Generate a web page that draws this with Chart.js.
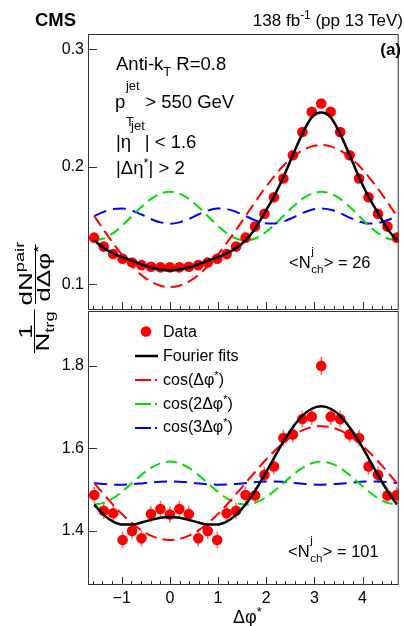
<!DOCTYPE html>
<html>
<head>
<meta charset="utf-8">
<script src="https://cdn.jsdelivr.net/npm/chart.js@4.4.1/dist/chart.umd.min.js"></script>
<style>
body{margin:0;background:#fff;width:404px;height:626px;overflow:hidden;position:relative;font-family:'Liberation Sans',Arial,sans-serif;}
canvas{position:absolute;left:0}
.t{position:absolute;white-space:nowrap;line-height:1;color:#000}
.sp{position:relative;font-size:70%;line-height:1}
.ss{position:relative;display:inline-block;height:1em;vertical-align:baseline}
.ss > span{position:absolute;left:0.05em;font-size:70%;line-height:1;white-space:nowrap}
.frac{display:inline-flex;flex-direction:column;align-items:center}
.frac > span{line-height:0.85;padding:0 1px}
.frac .den{border-top:1.5px solid #000;padding-top:1px}
</style>
</head>
<body>
<canvas id="topo" width="404" height="331" style="top:0"></canvas>
<canvas id="baixo" width="404" height="335" style="top:291px"></canvas>

<!-- cabeçalho -->
<div class="t" style="left:35px;top:11px;font-size:18.5px;font-weight:bold">CMS</div>
<div class="t" style="right:1px;top:12px;font-size:17px">138 fb<span class="sp" style="top:-7px">-1</span> (pp 13 TeV)</div>
<div class="t" style="right:3px;top:41px;font-size:17px;font-weight:bold">(a)</div>

<!-- textos do painel de cima -->
<div class="t" style="left:116px;top:55px;font-size:18.5px">Anti-k<span class="sp" style="top:6px">T</span> R=0.8</div>
<div class="t" style="left:115px;top:89px;font-size:18.5px">p<span class="ss" style="width:0.8em"><span style="top:-9px">jet</span><span style="top:27px">T</span></span> &gt; 550 GeV</div>
<div class="t" style="left:116px;top:133px;font-size:18.5px">|η<span class="sp" style="top:-18px">jet</span>| &lt; 1.6</div>
<div class="t" style="left:116px;top:159px;font-size:18.5px">|Δη<span class="sp" style="top:-7px">*</span>| &gt; 2</div>
<div class="t" style="left:289px;top:251px;font-size:16.5px">&lt;N<span class="ss" style="width:0.8em"><span style="top:-5px">j</span><span style="top:13px">ch</span></span>&gt; = 26</div>

<!-- legenda e textos do painel de baixo -->
<div class="t" style="left:163px;top:324px;font-size:16px">Data</div>
<div class="t" style="left:163px;top:348px;font-size:16px">Fourier fits</div>
<div class="t" style="left:163px;top:372px;font-size:16px">cos(Δφ<span class="sp" style="top:-6px">*</span>)</div>
<div class="t" style="left:163px;top:396px;font-size:16px">cos(2Δφ<span class="sp" style="top:-6px">*</span>)</div>
<div class="t" style="left:163px;top:419px;font-size:16px">cos(3Δφ<span class="sp" style="top:-6px">*</span>)</div>
<div class="t" style="left:288px;top:540px;font-size:16.5px">&lt;N<span class="ss" style="width:0.8em"><span style="top:-5px">j</span><span style="top:13px">ch</span></span>&gt; = 101</div>

<!-- titulo do eixo x -->
<div class="t" style="left:233px;top:608px;font-size:18px">Δφ<span class="sp" style="top:-7px">*</span></div>

<!-- titulo do eixo y (girado) -->
<div class="t" style="left:19px;top:353px;font-size:18px;transform:rotate(-90deg) scaleX(1.45);transform-origin:0 0;display:flex;align-items:center;gap:2px">
  <span class="frac"><span class="num">1</span><span class="den">N<span class="sp" style="top:5px">trg</span></span></span>
  <span class="frac"><span class="num">dN<span class="sp" style="top:-8px">pair</span></span><span class="den">dΔφ<span class="sp" style="top:-7px">*</span></span></span>
</div>

<script>
// centros dos bins em delta phi (-pi/2 ate 3pi/2, passo pi/16)
const dphi = [-1.571,-1.374,-1.178,-0.982,-0.785,-0.589,-0.393,-0.196,0,0.196,0.393,0.589,0.785,0.982,1.178,1.374,1.571,1.767,1.963,2.160,2.356,2.553,2.749,2.945,3.142,3.338,3.534,3.731,3.927,4.123,4.320,4.516,4.712]

const xTicks = [-1, 0, 1, 2, 3, 4]
const yTicksTop = [0.1, 0.2, 0.3]
const yTicksBottom = [1.4, 1.6, 1.8]

// painel de cima, <Nch> = 26
const dataTop = [0.1396,0.132,0.1256,0.1216,0.1185,0.1162,0.1148,0.1143,0.1143,0.1143,0.1148,0.1162,0.1185,0.1216,0.1256,0.132,0.1396,0.149,0.160,0.174,0.190,0.2097,0.2296,0.2467,0.2538,0.2467,0.2296,0.2097,0.190,0.174,0.160,0.149,0.1396]
const fitTop = [0.1373,0.1307,0.1263,0.1229,0.1198,0.1169,0.1142,0.1124,0.1117,0.1124,0.1142,0.1169,0.1198,0.1229,0.1263,0.1307,0.1373,0.1471,0.1606,0.1745,0.191,0.210,0.228,0.242,0.2462,0.242,0.228,0.210,0.191,0.1745,0.1606,0.1471,0.1373]
const cos1Top = [0.158,0.1462,0.1349,0.1244,0.1152,0.1077,0.1021,0.0987,0.0975,0.0987,0.1021,0.1077,0.1152,0.1244,0.1349,0.1462,0.158,0.1698,0.1812,0.1916,0.2008,0.2083,0.2139,0.2173,0.2185,0.2173,0.2139,0.2083,0.2008,0.1916,0.1812,0.1698,0.158]
const cos2Top = [0.1373,0.1389,0.1434,0.1501,0.158,0.1659,0.1726,0.1771,0.1787,0.1771,0.1726,0.1659,0.158,0.1501,0.1434,0.1389,0.1373,0.1389,0.1434,0.1501,0.158,0.1659,0.1726,0.1771,0.1787,0.1771,0.1726,0.1659,0.158,0.1501,0.1434,0.1389,0.1373]
const cos3Top = [0.158,0.1616,0.1640,0.1644,0.1626,0.1593,0.1555,0.1526,0.1515,0.1526,0.1555,0.1593,0.1626,0.1644,0.1640,0.1616,0.158,0.1544,0.1520,0.1516,0.1534,0.1567,0.1605,0.1634,0.1645,0.1634,0.1605,0.1567,0.1534,0.1516,0.1520,0.1544,0.158]

// painel de baixo, <Nch> = 101
const dataBottom = [1.487,1.449,1.443,1.378,1.400,1.382,1.441,1.453,1.440,1.453,1.441,1.382,1.400,1.378,1.443,1.449,1.487,1.486,1.536,1.556,1.625,1.634,1.671,1.677,1.800,1.677,1.671,1.634,1.625,1.556,1.536,1.486,1.487]
const errBottom = [0.02,0.02,0.02,0.02,0.02,0.02,0.02,0.02,0.02,0.02,0.02,0.02,0.02,0.02,0.02,0.02,0.02,0.02,0.02,0.02,0.02,0.02,0.02,0.02,0.022,0.02,0.02,0.02,0.02,0.02,0.02,0.02,0.02]
const fitBottom = [1.464,1.4389,1.4227,1.4155,1.4156,1.4204,1.4268,1.432,1.434,1.432,1.4268,1.4204,1.4156,1.4155,1.4227,1.4389,1.464,1.4971,1.5357,1.5767,1.6164,1.6515,1.6788,1.6961,1.702,1.6961,1.6788,1.6515,1.6164,1.5767,1.5357,1.4971,1.464]
const cos1Bottom = [1.516,1.4891,1.4632,1.4393,1.4184,1.4013,1.3885,1.3807,1.378,1.3807,1.3885,1.4013,1.4184,1.4393,1.4632,1.4891,1.516,1.5429,1.5688,1.5927,1.6136,1.6308,1.6435,1.6514,1.654,1.6514,1.6435,1.6308,1.6136,1.5927,1.5688,1.5429,1.516]
const cos2Bottom = [1.464,1.468,1.4792,1.4961,1.516,1.5359,1.5528,1.564,1.568,1.564,1.5528,1.5359,1.516,1.4961,1.4792,1.468,1.464,1.468,1.4792,1.4961,1.516,1.5359,1.5528,1.564,1.568,1.564,1.5528,1.5359,1.516,1.4961,1.4792,1.468,1.464]
const cos3Bottom = [1.516,1.5138,1.5123,1.5121,1.5132,1.5152,1.5175,1.5193,1.520,1.5193,1.5175,1.5152,1.5132,1.5121,1.5123,1.5138,1.516,1.5182,1.5197,1.5199,1.5188,1.5168,1.5145,1.5127,1.512,1.5127,1.5145,1.5168,1.5188,1.5199,1.5197,1.5182,1.516]

Chart.defaults.font.family = "'Liberation Sans', Arial, sans-serif"
Chart.defaults.color = '#000'

function pts(ys){
    return dphi.map((x, i) => ({x: x, y: ys[i]}))
}

//moldura estilo ROOT com ticks para dentro
const rootFrame = {
    id: 'rootFrame',
    afterDatasetsDraw(chart){
        const ctx = chart.ctx
        const a = chart.chartArea
        const xs = chart.scales.x
        const ys = chart.scales.y
        ctx.save()
        ctx.strokeStyle = '#333'
        ctx.lineWidth = 1
        ctx.strokeRect(a.left + 0.5, a.top + 0.5, a.width - 1, a.height - 1)
        ctx.beginPath()
        ys.ticks.forEach(t => {
            const y = Math.round(ys.getPixelForValue(t.value)) + 0.5
            ctx.moveTo(a.left, y)
            ctx.lineTo(a.left + 9, y)
        })
        for(let i = -8; i <= 23; i++){
            const x = Math.round(xs.getPixelForValue(i / 5)) + 0.5
            const len = (i % 5 === 0) ? 8 : 4
            ctx.moveTo(x, a.bottom)
            ctx.lineTo(x, a.bottom - len)
        }
        ctx.stroke()
        ctx.restore()
    }
}

//barras de erro verticais dos pontos
const errorBars = {
    id: 'errorBars',
    beforeDatasetsDraw(chart, args, opts){
        if(!opts.errors) return
        const ctx = chart.ctx
        const ys = chart.scales.y
        const meta = chart.getDatasetMeta(opts.datasetIndex)
        const vals = chart.data.datasets[opts.datasetIndex].data
        ctx.save()
        ctx.strokeStyle = opts.color
        ctx.lineWidth = 1.5
        ctx.beginPath()
        meta.data.forEach((p, i) => {
            ctx.moveTo(p.x, ys.getPixelForValue(vals[i].y - opts.errors[i]))
            ctx.lineTo(p.x, ys.getPixelForValue(vals[i].y + opts.errors[i]))
        })
        ctx.stroke()
        ctx.restore()
    }
}

//simbolos da legenda (textos ficam no html)
const legendSymbols = {
    id: 'legendSymbols',
    afterDraw(chart){
        const ctx = chart.ctx
        ctx.save()
        ctx.fillStyle = '#ff0000'
        ctx.beginPath()
        ctx.arc(146, 40.5, 5.3, 0, Math.PI * 2)
        ctx.fill()
        ctx.strokeStyle = '#000'
        ctx.lineWidth = 2.5
        ctx.beginPath()
        ctx.moveTo(135, 65)
        ctx.lineTo(158, 65)
        ctx.stroke()
        const cores = ['#ff0000', '#00e000', '#0000ff']
        cores.forEach((c, i) => {
            const y = 89 + i * 24
            ctx.strokeStyle = c
            ctx.lineWidth = 2
            ctx.beginPath()
            ctx.moveTo(135, y)
            ctx.lineTo(151, y)
            ctx.moveTo(155, y)
            ctx.lineTo(157, y)
            ctx.stroke()
        })
        ctx.restore()
    }
}

function datasets(data, fit, c1, c2, c3){
    return [
        {
            label: 'Fourier fits',
            data: pts(fit),
            showLine: true,
            borderColor: '#000',
            borderWidth: 2.5,
            pointRadius: 0,
            cubicInterpolationMode: 'monotone'
        },
        {
            label: 'Data',
            data: pts(data),
            showLine: false,
            pointRadius: 5.3,
            backgroundColor: '#ff0000',
            borderWidth: 0
        },
        {
            label: 'cos(Δφ*)',
            data: pts(c1),
            showLine: true,
            borderColor: '#ff0000',
            borderWidth: 2,
            borderDash: [12, 6],
            pointRadius: 0,
            cubicInterpolationMode: 'monotone'
        },
        {
            label: 'cos(2Δφ*)',
            data: pts(c2),
            showLine: true,
            borderColor: '#00e000',
            borderWidth: 2,
            borderDash: [11, 6],
            pointRadius: 0,
            cubicInterpolationMode: 'monotone'
        },
        {
            label: 'cos(3Δφ*)',
            data: pts(c3),
            showLine: true,
            borderColor: '#0000ff',
            borderWidth: 2,
            borderDash: [13, 7],
            pointRadius: 0,
            cubicInterpolationMode: 'monotone'
        }
    ]
}

function painel(id, data, fit, c1, c2, c3, yMin, yMax, yTicks, embaixo, errs){
    const ctx = document.getElementById(id).getContext('2d')
    return new Chart(ctx, {
        type: 'scatter',
        data: {datasets: datasets(data, fit, c1, c2, c3)},
        options: {
            responsive: false,
            animation: false,
            devicePixelRatio: 1,
            layout: {padding: embaixo ? {top: 20, right: 2, bottom: 0, left: 0} : {top: 34, right: 2, bottom: 21, left: 0}},
            plugins: {
                legend: {display: false},
                tooltip: {enabled: false},
                errorBars: {errors: errs, datasetIndex: 1, color: 'rgba(240,60,60,0.75)'}
            },
            scales: {
                x: {
                    type: 'linear',
                    min: -1.7,
                    max: 4.75,
                    display: embaixo,
                    grid: {display: false, drawTicks: false},
                    border: {display: false},
                    afterBuildTicks: s => { s.ticks = xTicks.map(v => ({value: v})) },
                    afterFit: s => { if(embaixo) s.height = 41 },
                    ticks: {
                        font: {size: 16},
                        padding: 4,
                        maxRotation: 0,
                        callback: v => v < 0 ? '\u2212' + Math.abs(v) : String(v)
                    }
                },
                y: {
                    type: 'linear',
                    min: yMin,
                    max: yMax,
                    grid: {display: false, drawTicks: false},
                    border: {display: false},
                    afterBuildTicks: s => { s.ticks = yTicks.map(v => ({value: v})) },
                    afterFit: s => { s.width = 88 },
                    ticks: {
                        font: {size: 16},
                        padding: 4,
                        callback: v => v.toFixed(1)
                    }
                }
            }
        },
        plugins: embaixo ? [errorBars, rootFrame, legendSymbols] : [errorBars, rootFrame]
    })
}

painel('topo', dataTop, fitTop, cos1Top, cos2Top, cos3Top, 0.078, 0.313, yTicksTop, false, null)
painel('baixo', dataBottom, fitBottom, cos1Bottom, cos2Bottom, cos3Bottom, 1.269, 1.933, yTicksBottom, true, errBottom)
</script>
</body>
</html>
